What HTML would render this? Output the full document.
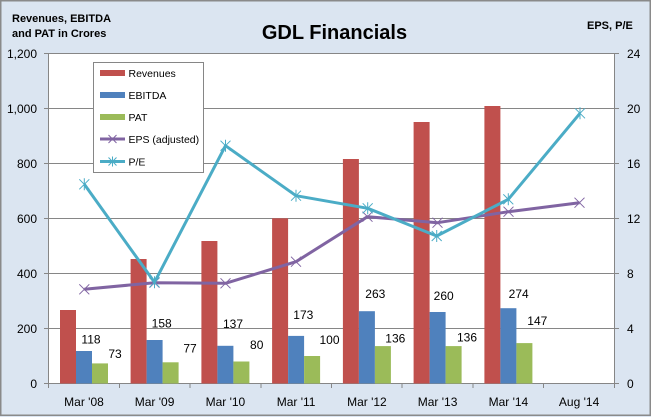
<!DOCTYPE html>
<html><head><meta charset="utf-8"><style>
html,body{margin:0;padding:0;background:#dbe5f1;}
svg{display:block;font-family:"Liberation Sans",Arial,sans-serif;}
</style></head><body>
<svg width="651" height="417" viewBox="0 0 651 417" xmlns="http://www.w3.org/2000/svg">
<rect x="0.75" y="0.75" width="649.5" height="414.5" fill="#dbe5f1" stroke="#8a8a8a" stroke-width="1.5"/>
<!-- plot area -->
<rect x="48.5" y="53.5" width="566" height="330" fill="#ffffff"/>
<!-- gridlines -->
<g stroke="#868686" stroke-width="1">
<line x1="44" y1="53.5" x2="619" y2="53.5"/>
<line x1="44" y1="108.5" x2="619" y2="108.5"/>
<line x1="44" y1="163.5" x2="619" y2="163.5"/>
<line x1="44" y1="218.5" x2="619" y2="218.5"/>
<line x1="44" y1="273.5" x2="619" y2="273.5"/>
<line x1="44" y1="328.5" x2="619" y2="328.5"/>
<line x1="44" y1="383.5" x2="619" y2="383.5"/>
<line x1="48.5" y1="53.5" x2="48.5" y2="388"/>
<line x1="614.5" y1="53.5" x2="614.5" y2="388"/>
<line x1="119.5" y1="383.5" x2="119.5" y2="388"/>
<line x1="190" y1="383.5" x2="190" y2="388"/>
<line x1="261" y1="383.5" x2="261" y2="388"/>
<line x1="331.5" y1="383.5" x2="331.5" y2="388"/>
<line x1="402" y1="383.5" x2="402" y2="388"/>
<line x1="473" y1="383.5" x2="473" y2="388"/>
<line x1="543.5" y1="383.5" x2="543.5" y2="388"/>
</g>
<!-- bars -->
<g fill="#c0504d">
<rect x="60" y="310" width="16" height="73.5"/>
<rect x="130.6" y="259" width="16" height="124.5"/>
<rect x="201.4" y="241" width="16" height="142.5"/>
<rect x="272.1" y="218.3" width="16" height="165.2"/>
<rect x="342.9" y="159" width="16" height="224.5"/>
<rect x="413.6" y="122" width="16" height="261.5"/>
<rect x="484.4" y="106" width="16" height="277.5"/>
</g>
<g fill="#4f81bd">
<rect x="76" y="351" width="16" height="32.5"/>
<rect x="146.6" y="340" width="16" height="43.5"/>
<rect x="217.4" y="345.8" width="16" height="37.7"/>
<rect x="288.1" y="335.9" width="16" height="47.6"/>
<rect x="358.9" y="311.2" width="16" height="72.3"/>
<rect x="429.6" y="312" width="16" height="71.5"/>
<rect x="500.4" y="308.2" width="16" height="75.3"/>
</g>
<g fill="#9bbb59">
<rect x="92" y="363.4" width="16" height="20.1"/>
<rect x="162.6" y="362.3" width="16" height="21.2"/>
<rect x="233.4" y="361.5" width="16" height="22"/>
<rect x="304.1" y="356" width="16" height="27.5"/>
<rect x="374.9" y="346.1" width="16" height="37.4"/>
<rect x="445.6" y="346.1" width="16" height="37.4"/>
<rect x="516.4" y="343.1" width="16" height="40.4"/>
</g>
<!-- data labels -->
<g font-size="12" fill="#000" text-anchor="middle">
<text x="91" y="343.5">118</text>
<text x="115" y="358">73</text>
<text x="161.7" y="327.5">158</text>
<text x="190" y="352.5">77</text>
<text x="233" y="328">137</text>
<text x="256.7" y="349">80</text>
<text x="303.3" y="319">173</text>
<text x="329.5" y="344">100</text>
<text x="375.3" y="298">263</text>
<text x="395.3" y="342.5">136</text>
<text x="443.7" y="300">260</text>
<text x="467" y="341.5">136</text>
<text x="518.7" y="298">274</text>
<text x="537.3" y="325">147</text>
</g>
<!-- EPS line -->
<polyline fill="none" stroke="#8064a2" stroke-width="3" stroke-linejoin="round" points="84.3,289.3 154.5,282.7 225.5,283.3 296,261.7 367.5,216.7 437.5,222.7 508.5,211.7 579.5,202.7"/>
<g stroke="#8064a2" stroke-width="1">
<path d="M79.3,284.3 l10,10 M89.3,284.3 l-10,10"/>
<path d="M149.5,277.7 l10,10 M159.5,277.7 l-10,10"/>
<path d="M220.5,278.3 l10,10 M230.5,278.3 l-10,10"/>
<path d="M291,256.7 l10,10 M301,256.7 l-10,10"/>
<path d="M362.5,211.7 l10,10 M372.5,211.7 l-10,10"/>
<path d="M432.5,217.7 l10,10 M442.5,217.7 l-10,10"/>
<path d="M503.5,206.7 l10,10 M513.5,206.7 l-10,10"/>
<path d="M574.5,197.7 l10,10 M584.5,197.7 l-10,10"/>
</g>
<!-- P/E line -->
<polyline fill="none" stroke="#4bacc6" stroke-width="3" stroke-linejoin="round" points="84.3,184.3 154.5,282.3 225.5,145.7 296,195.7 367.7,208.3 436.7,236 508.3,199.3 580,113.3"/>
<g stroke="#4bacc6" stroke-width="1">
<path d="M79.3,179.3 l10,10 M89.3,179.3 l-10,10 M84.3,178.3 v12"/>
<path d="M149.5,277.3 l10,10 M159.5,277.3 l-10,10 M154.5,276.3 v12"/>
<path d="M220.5,140.7 l10,10 M230.5,140.7 l-10,10 M225.5,139.7 v12"/>
<path d="M291,190.7 l10,10 M301,190.7 l-10,10 M296,189.7 v12"/>
<path d="M362.7,203.3 l10,10 M372.7,203.3 l-10,10 M367.7,202.3 v12"/>
<path d="M431.7,231 l10,10 M441.7,231 l-10,10 M436.7,230 v12"/>
<path d="M503.3,194.3 l10,10 M513.3,194.3 l-10,10 M508.3,193.3 v12"/>
<path d="M575,108.3 l10,10 M585,108.3 l-10,10 M580,107.3 v12"/>
</g>
<!-- left axis labels -->
<g font-size="12" fill="#000" text-anchor="end">
<text x="37" y="58">1,200</text>
<text x="37" y="113">1,000</text>
<text x="37" y="168">800</text>
<text x="37" y="223">600</text>
<text x="37" y="278">400</text>
<text x="37" y="333">200</text>
<text x="37" y="388">0</text>
</g>
<!-- right axis labels -->
<g font-size="12" fill="#000">
<text x="627" y="58">24</text>
<text x="627" y="113">20</text>
<text x="627" y="168">16</text>
<text x="627" y="223">12</text>
<text x="627" y="278">8</text>
<text x="627" y="333">4</text>
<text x="627" y="388">0</text>
</g>
<!-- category labels -->
<g font-size="12" fill="#000" text-anchor="middle">
<text x="84" y="406">Mar '08</text>
<text x="154.6" y="406">Mar '09</text>
<text x="225.4" y="406">Mar '10</text>
<text x="296.1" y="406">Mar '11</text>
<text x="366.9" y="406">Mar '12</text>
<text x="437.6" y="406">Mar '13</text>
<text x="508.4" y="406">Mar '14</text>
<text x="579.1" y="406">Aug '14</text>
</g>
<!-- titles -->
<text x="334.5" y="39" font-size="20" font-weight="bold" text-anchor="middle" fill="#000">GDL Financials</text>
<text x="12" y="22" font-size="11" font-weight="bold" fill="#000">Revenues, EBITDA</text>
<text x="12" y="37" font-size="11" font-weight="bold" fill="#000">and PAT in Crores</text>
<text x="587" y="29" font-size="11" font-weight="bold" fill="#000">EPS, P/E</text>
<!-- legend -->
<rect x="93.5" y="62.5" width="110" height="110" fill="#ffffff" stroke="#868686" stroke-width="1"/>
<rect x="100" y="70" width="25" height="6" fill="#c0504d"/>
<rect x="100" y="92" width="25" height="6" fill="#4f81bd"/>
<rect x="100" y="114" width="25" height="6" fill="#9bbb59"/>
<line x1="100" y1="139" x2="125" y2="139" stroke="#8064a2" stroke-width="3"/>
<path d="M108.5,135 l8,8 M116.5,135 l-8,8" stroke="#8064a2" stroke-width="1"/>
<line x1="100" y1="161.5" x2="125" y2="161.5" stroke="#4bacc6" stroke-width="3"/>
<path d="M108.5,157.5 l8,8 M116.5,157.5 l-8,8 M112.5,156.5 v10" stroke="#4bacc6" stroke-width="1"/>
<g font-size="10.5" fill="#000">
<text x="128.5" y="77">Revenues</text>
<text x="128.5" y="99">EBITDA</text>
<text x="128.5" y="121">PAT</text>
<text x="128.5" y="143">EPS (adjusted)</text>
<text x="128.5" y="165.5">P/E</text>
</g>
</svg>
</body></html>
